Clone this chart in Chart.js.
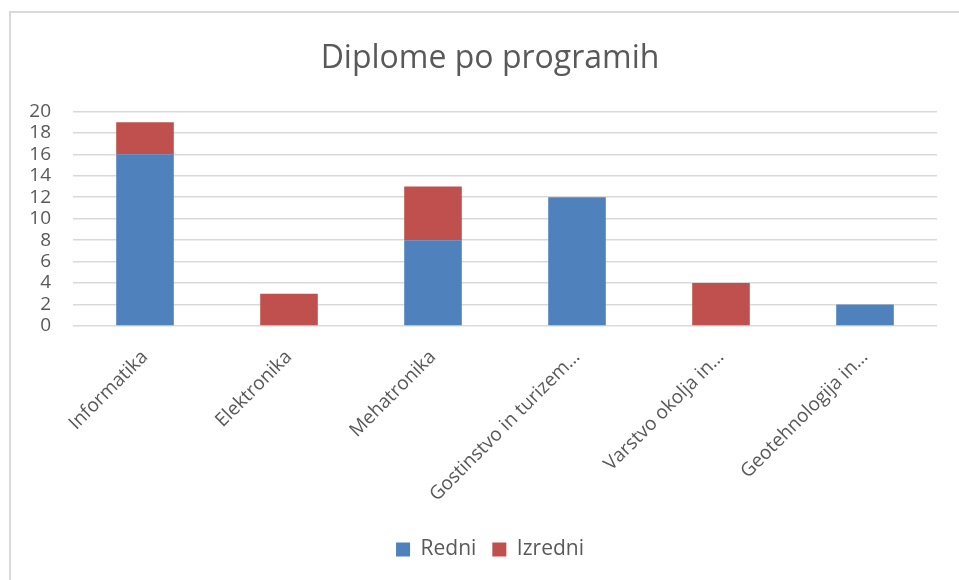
<!DOCTYPE html>
<html>
<head>
<meta charset="utf-8">
<script src="https://cdn.jsdelivr.net/npm/chart.js@4/dist/chart.umd.min.js"></script>
<style>
  html, body { margin: 0; padding: 0; background: #fff; }
  #wrap { width: 959px; height: 580px; position: relative; }
</style>
</head>
<body>
<div id="wrap"><canvas id="grafico" width="959" height="580"></canvas></div>
<script>
// --- Podatki ---
const programi = ['Informatika', 'Elektronika', 'Mehatronika', 'Gostinstvo in turizem…', 'Varstvo okolja in…', 'Geotehnologija in…'];
const redni = [16, 0, 8, 12, 0, 2];
const izredni = [3, 3, 5, 0, 4, 0];
const yTicks = [0, 2, 4, 6, 8, 10, 12, 14, 16, 18, 20];

const pisava = "'Open Sans', sans-serif";
const sivaBesedila = '#595959';

// okvir okoli grafa (kot v Excelu)
const okvir = {
    id: 'okvir',
    beforeDraw(chart) {
        const ctx = chart.ctx;
        ctx.save();
        ctx.strokeStyle = '#d9d9d9';
        ctx.lineWidth = 2;
        ctx.beginPath();
        ctx.moveTo(10, 580);
        ctx.lineTo(10, 12);
        ctx.lineTo(959, 12);
        ctx.stroke();
        ctx.restore();
    }
};

const ctx = document.getElementById('grafico').getContext('2d');
new Chart(ctx, {
    type: 'bar',
    data: {
        labels: programi,
        datasets: [
            { label: 'Redni', data: redni, backgroundColor: '#4f81bd' },
            { label: 'Izredni', data: izredni, backgroundColor: '#c0504d' }
        ]
    },
    options: {
        responsive: false,
        animation: false,
        devicePixelRatio: 1,
        layout: { padding: { left: 21, right: 0, top: 0, bottom: 10 } },
        datasets: { bar: { barPercentage: 0.4, categoryPercentage: 1 } },
        scales: {
            x: {
                stacked: true,
                grid: { display: false },
                border: { display: false },
                ticks: {
                    color: sivaBesedila,
                    font: { family: pisava, size: 19 },
                    minRotation: 45, maxRotation: 45,
                    autoSkip: false, padding: 12
                },
                afterFit(scale) { scale.height = 197; }
            },
            y: {
                stacked: true,
                min: 0, max: 20,
                grid: { color: '#d9d9d9', lineWidth: 1.5, drawTicks: false },
                border: { display: false },
                afterBuildTicks(scale) { scale.ticks = yTicks.map(v => ({ value: v })); },
                ticks: {
                    color: sivaBesedila,
                    font: { family: pisava, size: 19, lineHeight: 1 },
                    autoSkip: false,
                    padding: 22
                },
                afterFit(scale) { scale.width = 52; }
            },
            // prazen prostor desno od grafa
            desno: {
                position: 'right',
                grid: { display: false },
                border: { display: false },
                ticks: { display: false },
                afterFit(scale) { scale.width = 22; }
            }
        },
        plugins: {
            title: {
                display: true,
                text: 'Diplome po programih',
                color: sivaBesedila,
                font: { family: pisava, size: 32, weight: 'normal' },
                padding: { top: 40, bottom: 33 }
            },
            legend: {
                position: 'bottom',
                labels: {
                    color: sivaBesedila,
                    font: { family: pisava, size: 21 },
                    boxWidth: 14, boxHeight: 14, padding: 16
                }
            },
            tooltip: { enabled: false }
        }
    },
    plugins: [okvir]
});
</script>
</body>
</html>
